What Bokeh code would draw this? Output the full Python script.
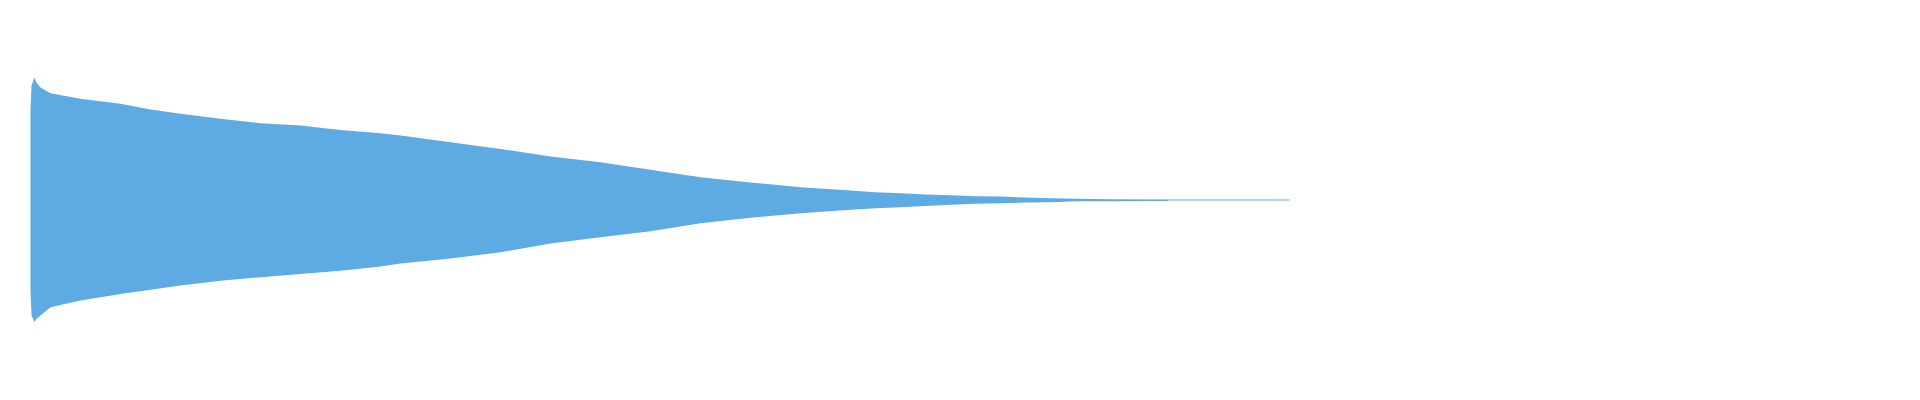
from bokeh.plotting import figure
from bokeh.models import Range1d
from bokeh.embed import file_html
from bokeh.resources import INLINE

# Waveform envelope: time (s), upper and lower amplitude (normalised)
time_s = [0.000, 0.001, 0.004, 0.006, 0.010, 0.020, 0.050, 0.090, 0.120, 0.150,
          0.190, 0.230, 0.270, 0.310, 0.350, 0.370, 0.420, 0.470, 0.520, 0.570,
          0.620, 0.670, 0.720, 0.770, 0.820, 0.845, 0.870, 0.895, 0.920, 0.945,
          0.970, 0.995, 1.020, 1.045, 1.080, 1.137, 1.138, 1.259]
upper = [0.474, 0.599, 0.641, 0.615, 0.589, 0.559, 0.530, 0.504, 0.474, 0.452,
         0.426, 0.403, 0.391, 0.368, 0.351, 0.339, 0.304, 0.269, 0.229, 0.199,
         0.160, 0.121, 0.094, 0.069, 0.052, 0.043, 0.038, 0.031, 0.028, 0.022,
         0.021, 0.016, 0.012, 0.010, 0.007, 0.005, 0.005, 0.005]
lower = [-0.469, -0.599, -0.633, -0.615, -0.599, -0.556, -0.521, -0.486, -0.464, -0.443,
         -0.417, -0.399, -0.382, -0.365, -0.344, -0.328, -0.302, -0.269, -0.224, -0.191,
         -0.160, -0.118, -0.090, -0.066, -0.048, -0.040, -0.035, -0.028, -0.022, -0.017,
         -0.014, -0.010, -0.009, -0.004, -0.004, -0.002, 0.000, 0.000]

WAVE_COLOR = "#5DABE2"

p = figure(width=1904, height=384, output_backend="svg", toolbar_location=None,
           x_range=Range1d(-0.030, 1.874), y_range=Range1d(-0.958, 1.042),
           min_border=0)
p.axis.visible = False
p.grid.visible = False
p.outline_line_color = None
p.background_fill_color = "white"
p.border_fill_color = "white"

p.varea(x=time_s, y1=lower, y2=upper, fill_color=WAVE_COLOR, fill_alpha=1.0)

open("out.html", "w").write(file_html(p, INLINE))
